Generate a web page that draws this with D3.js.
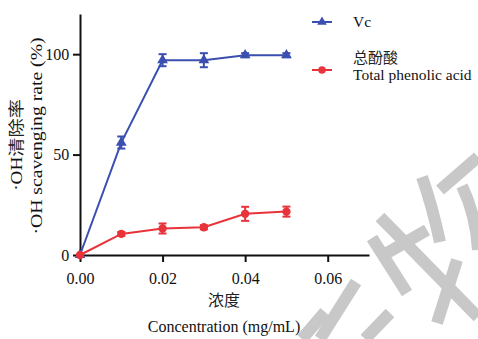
<!DOCTYPE html>
<html>
<head>
<meta charset="utf-8">
<script src="https://cdn.jsdelivr.net/npm/d3@7"></script>
<style>
  body { margin: 0; background: #fff; }
  svg text, svg tspan { font-family: "Liberation Serif", "Times New Roman", serif; fill: #111; }
  svg .cjk { font-family: "Noto Sans CJK SC", sans-serif; fill: #222; }
</style>
</head>
<body>
<svg id="chart" width="478" height="339"></svg>
<script>
// data
const concentrations = [0, 0.01, 0.02, 0.03, 0.04, 0.05]
const vcValues = [0, 56, 97, 97, 99.5, 99.5]
const vcErrors = [0, 3, 3, 3.5, 1, 1]
const phenolicValues = [0, 10.5, 13.2, 13.8, 20.5, 21.6]
const phenolicErrors = [0, 1, 2.5, 1, 3.5, 2.5]
const xTicks = [0, 0.02, 0.04, 0.06]
const yTicks = [0, 50, 100]

const width = 478
const height = 339
const svg = d3.select('#chart')

svg.append('rect').attr('width', width).attr('height', height).attr('fill', '#fff')

// scales
const x = d3.scaleLinear().domain([0, 0.07]).range([80, 369])
const y = d3.scaleLinear().domain([0, 120]).range([255, 14])

// axes
const xAxis = svg.append('g')
  .attr('transform', `translate(0,${y(0)})`)
  .call(d3.axisBottom(x).tickValues(xTicks).tickFormat(d3.format('.2f')).tickSize(7).tickSizeOuter(0))
const yAxis = svg.append('g')
  .attr('transform', `translate(${x(0)},0)`)
  .call(d3.axisLeft(y).tickValues(yTicks).tickSize(7).tickSizeOuter(0))

;[xAxis, yAxis].forEach(a => {
  a.attr('font-family', '"Liberation Serif", serif').attr('font-size', 16)
  a.select('.domain').attr('stroke', '#111').attr('stroke-width', 2)
  a.selectAll('.tick line').attr('stroke', '#111').attr('stroke-width', 2)
  a.selectAll('.tick text').style('font-family', '"Liberation Serif", serif').attr('fill', '#111')
})
xAxis.selectAll('.tick text').attr('dy', '1.2em')
yAxis.selectAll('.tick text').attr('dx', '-0.05em')

// series
const series = [
  { name: 'Vc', values: vcValues, errors: vcErrors, color: '#3a4fb0', shape: d3.symbolTriangle },
  { name: 'phenolic', values: phenolicValues, errors: phenolicErrors, color: '#e8333b', shape: d3.symbolCircle }
]

const line = d3.line()
  .x(d => x(d.c))
  .y(d => y(d.v))

series.forEach(s => {
  const pts = concentrations.map((c, i) => ({ c, v: s.values[i], e: s.errors[i] }))
  const g = svg.append('g')

  g.append('path')
    .datum(pts)
    .attr('fill', 'none')
    .attr('stroke', s.color)
    .attr('stroke-width', 2)
    .attr('d', line)

  // error bars
  const eb = g.selectAll('.err').data(pts.filter(d => d.e > 0)).join('g')
  eb.append('line')
    .attr('x1', d => x(d.c)).attr('x2', d => x(d.c))
    .attr('y1', d => y(d.v - d.e)).attr('y2', d => y(d.v + d.e))
    .attr('stroke', s.color).attr('stroke-width', 2)
  eb.selectAll('.cap').data(d => [d.v - d.e, d.v + d.e].map(v => ({ c: d.c, v }))).join('line')
    .attr('x1', d => x(d.c) - 4).attr('x2', d => x(d.c) + 4)
    .attr('y1', d => y(d.v)).attr('y2', d => y(d.v))
    .attr('stroke', s.color).attr('stroke-width', 2)

  g.selectAll('.pt').data(pts).join('path')
    .attr('transform', d => `translate(${x(d.c)},${y(d.v)})`)
    .attr('d', d3.symbol().type(s.shape).size(s.shape === d3.symbolTriangle ? 50 : 55))
    .attr('fill', s.color)
})

// axis titles
svg.append('text')
  .attr('class', 'cjk')
  .attr('x', 224).attr('y', 306)
  .attr('text-anchor', 'middle').attr('font-size', 16)
  .text('浓度')
svg.append('text')
  .attr('x', 224).attr('y', 332)
  .attr('text-anchor', 'middle').attr('font-size', 16)
  .text('Concentration (mg/mL)')

const yt1 = svg.append('text')
  .attr('transform', 'translate(22,145) rotate(-90) scale(1.2,1)')
  .attr('text-anchor', 'middle').attr('font-size', 16)
yt1.append('tspan').text('·OH')
yt1.append('tspan').attr('class', 'cjk').text('清除率')
svg.append('text')
  .attr('transform', 'translate(42,136) rotate(-90) scale(1.23,1)')
  .attr('text-anchor', 'middle').attr('font-size', 16)
  .text('·OH scavenging rate (%)')

// legend
const legend = svg.append('g')
const legendItems = [
  { color: '#3a4fb0', shape: d3.symbolTriangle, y: 22, labels: [{ t: 'Vc', dy: 5 }] },
  { color: '#e8333b', shape: d3.symbolCircle, y: 70, labels: [{ t: '总酚酸', dy: -7, cjk: true }, { t: 'Total phenolic acid', dy: 10 }] }
]
legendItems.forEach(it => {
  legend.append('line')
    .attr('x1', 312).attr('x2', 332)
    .attr('y1', it.y).attr('y2', it.y)
    .attr('stroke', it.color).attr('stroke-width', 2)
  legend.append('path')
    .attr('transform', `translate(322,${it.y})`)
    .attr('d', d3.symbol().type(it.shape).size(it.shape === d3.symbolTriangle ? 40 : 45))
    .attr('fill', it.color)
  it.labels.forEach(l => {
    const t = legend.append('text')
      .attr('x', 353).attr('y', it.y + l.dy)
      .attr('font-size', l.cjk ? 15 : 15.5)
      .text(l.t)
    if (l.cjk) t.attr('class', 'cjk')
  })
})

// watermark strokes
const marks = [
  [[356, 282], [320, 339]],
  [[325, 312], [302, 339]],
  [[390, 313], [365, 339]],
  [[380, 217], [478, 317]],
  [[372, 238], [407, 293]],
  [[387, 253], [427, 230]],
  [[437, 323], [457, 260]],
  [[440, 190], [478, 157]]
]
const wm = svg.append('g').attr('stroke', '#c8c8c8').attr('stroke-width', 12).attr('fill', 'none')
wm.selectAll('line').data(marks).join('line')
  .attr('x1', d => d[0][0]).attr('y1', d => d[0][1])
  .attr('x2', d => d[1][0]).attr('y2', d => d[1][1])
// curved strokes
wm.append('path').attr('d', 'M422,177 Q432,205 440,242')
wm.append('path').attr('d', 'M462,186 Q476,215 478,250')
</script>
</body>
</html>
